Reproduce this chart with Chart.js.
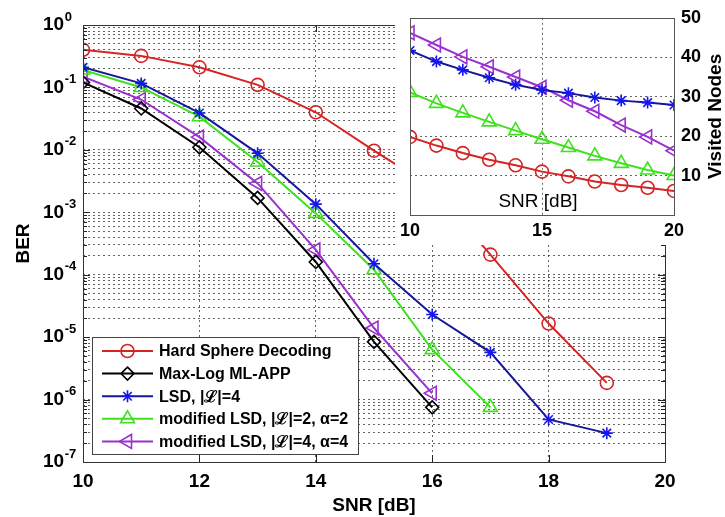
<!DOCTYPE html>
<html>
<head>
<meta charset="utf-8">
<script src="https://cdn.jsdelivr.net/npm/chart.js@4.4.1/dist/chart.umd.min.js"></script>
<style>
  body { margin: 0; background: #fff; }
  #wrap { position: relative; width: 725px; height: 517px; background: #fff; }
  #mainChart { position: absolute; left: 0; top: 0; }
  #insetChart { position: absolute; left: 395px; top: 0; background: #fff; }
</style>
</head>
<body>
<div id="wrap">
  <canvas id="mainChart" width="725" height="517"></canvas>
  <canvas id="insetChart" width="330" height="245"></canvas>
</div>
<script>
// BER curves (main plot)
const berSnr    = [10, 11, 12, 13, 14, 15, 16, 17, 18, 19];
const berHard   = [0.40, 0.32, 0.21, 0.11, 0.040, 0.0097, 2.5e-3, 2.1e-4, 1.65e-5, 1.85e-6];
const berMaxLog = [0.12, 0.046, 0.011, 1.7e-3, 1.6e-4, 8.4e-6, 7.5e-7];
const berLsd    = [0.21, 0.116, 0.039, 8.8e-3, 1.35e-3, 1.5e-4, 2.3e-5, 5.7e-6, 4.8e-7, 2.9e-7];
const berModL2  = [0.19, 0.10, 0.034, 6.4e-3, 9.6e-4, 1.2e-4, 6.3e-6, 7.5e-7];
const berModL4  = [0.149, 0.064, 0.016, 2.9e-3, 2.5e-4, 1.4e-5, 1.26e-6];

// visited nodes (inset)
const nodesSnr   = [10, 11, 12, 13, 14, 15, 16, 17, 18, 19, 20];
const nodesHard  = [19.8, 17.6, 15.7, 14.0, 12.6, 11.0, 9.8, 8.5, 7.6, 6.9, 6.1];
const nodesLsd   = [41.7, 38.9, 36.8, 34.8, 33.0, 31.7, 30.9, 29.8, 29.0, 28.5, 27.9];
const nodesModL2 = [31.1, 28.3, 25.9, 23.6, 21.4, 19.2, 17.1, 15.0, 13.1, 11.4, 10.0];
const nodesModL4 = [46.2, 43.1, 40.1, 37.6, 35.0, 32.4, 29.1, 26.3, 22.8, 19.8, 16.3];

const legendLabels = ['Hard Sphere Decoding', 'Max-Log ML-APP', 'LSD, |\u2112|=4',
                      'modified LSD, |\u2112|=2, \u03b1=2', 'modified LSD, |\u2112|=4, \u03b1=4'];
const yExponents = [0, -1, -2, -3, -4, -5, -6, -7];

const FONT = '"Liberation Sans", Arial, Helvetica, sans-serif';
const RED = '#d42424', BLACK = '#000000', BLUE = '#16169a', BLUE_PT = '#1515ee',
      GREEN = '#3fe01e', PURPLE = '#9b30d0';
const GRID = 'rgba(50,50,50,0.75)';

// style per series: color, marker color, marker, radius, rotation
const styles = [
  { color: RED,    pt: RED,     shape: 'circle',   r: 6.5, rot: 0 },
  { color: BLACK,  pt: BLACK,   shape: 'rectRot',  r: 6.5, rot: 0 },
  { color: BLUE,   pt: BLUE_PT, shape: 'star',     r: 6,   rot: 0 },
  { color: GREEN,  pt: GREEN,   shape: 'triangle', r: 8,   rot: 0 },
  { color: PURPLE, pt: PURPLE,  shape: 'triangle', r: 8,   rot: -90 }
];

function makeSeries(label, xs, ys, st, width) {
  return {
    label: label,
    data: ys.map((v, i) => ({ x: xs[i], y: v })),
    borderColor: st.color,
    borderWidth: width,
    pointStyle: st.shape,
    pointRadius: st.r,
    pointRotation: st.rot,
    pointBorderColor: st.pt,
    pointBackgroundColor: 'rgba(0,0,0,0)',
    pointBorderWidth: 1.6,
    tension: 0,
    fill: false
  };
}

// own marker drawing for the legend samples
function drawMarker(ctx, st, x, y) {
  const r = st.r;
  ctx.save();
  ctx.strokeStyle = st.pt;
  ctx.lineWidth = 1.6;
  ctx.beginPath();
  if (st.shape === 'circle') {
    ctx.arc(x, y, r, 0, Math.PI * 2);
  } else if (st.shape === 'rectRot') {
    ctx.moveTo(x, y - r); ctx.lineTo(x + r, y); ctx.lineTo(x, y + r); ctx.lineTo(x - r, y); ctx.closePath();
  } else if (st.shape === 'star') {
    for (let a = 0; a < 4; a++) {
      const ang = a * Math.PI / 4;
      ctx.moveTo(x - Math.cos(ang) * r, y - Math.sin(ang) * r);
      ctx.lineTo(x + Math.cos(ang) * r, y + Math.sin(ang) * r);
    }
  } else {
    let rad = st.rot * Math.PI / 180;
    for (let k = 0; k < 3; k++) {
      const px = x + Math.sin(rad) * r, py = y - Math.cos(rad) * r;
      if (k === 0) ctx.moveTo(px, py); else ctx.lineTo(px, py);
      rad += Math.PI * 2 / 3;
    }
    ctx.closePath();
  }
  ctx.stroke();
  ctx.restore();
}

// log ticks 1..9 x 10^n
const yTicks = [];
for (let e = -7; e < 0; e++) {
  for (let k = 1; k <= 9; k++) yTicks.push(k * Math.pow(10, e));
}
yTicks.push(1);

const mainDecor = {
  id: 'mainDecor',
  afterDraw(chart) {
    const ctx = chart.ctx;
    const a = chart.chartArea;
    const ys = chart.scales.y, xs = chart.scales.x;
    ctx.save();
    // inner tick marks
    ctx.strokeStyle = '#222';
    ctx.lineWidth = 1;
    ctx.beginPath();
    yTicks.forEach(v => {
      const py = Math.round(ys.getPixelForValue(v)) + 0.5;
      const major = Math.abs(Math.log10(v) - Math.round(Math.log10(v))) < 1e-9;
      const len = major ? 7 : 4;
      ctx.moveTo(a.left, py); ctx.lineTo(a.left + len, py);
      ctx.moveTo(a.right, py); ctx.lineTo(a.right - len, py);
    });
    [12, 14, 16, 18].forEach(v => {
      const px = Math.round(xs.getPixelForValue(v)) + 0.5;
      ctx.moveTo(px, a.bottom); ctx.lineTo(px, a.bottom - 7);
      ctx.moveTo(px, a.top); ctx.lineTo(px, a.top + 7);
    });
    ctx.stroke();
    // box
    ctx.strokeStyle = '#333';
    ctx.strokeRect(Math.round(a.left) + 0.5, Math.round(a.top) + 0.5,
                   Math.round(a.right - a.left), Math.round(a.bottom - a.top));

    // y tick labels 10^n
    ctx.fillStyle = '#000';
    ctx.textBaseline = 'middle';
    ctx.textAlign = 'left';
    yExponents.forEach(e => {
      const py = ys.getPixelForValue(Math.pow(10, e));
      ctx.font = 'bold 19px ' + FONT;
      ctx.fillText('10', 43, py);
      const w = ctx.measureText('10').width;
      ctx.font = 'bold 13px ' + FONT;
      ctx.fillText(e === 0 ? '0' : '-' + Math.abs(e), 43 + w + 0.5, py - 8);
    });

    // axis titles
    ctx.font = 'bold 19px ' + FONT;
    ctx.textAlign = 'center';
    ctx.fillText('SNR [dB]', (a.left + a.right) / 2, 506);
    ctx.save();
    ctx.translate(24, (a.top + a.bottom) / 2);
    ctx.rotate(-Math.PI / 2);
    ctx.fillText('BER', 0, 0);
    ctx.restore();

    // legend
    const lx = 92, ly = 337, lw = 266, lh = 117;
    ctx.fillStyle = '#fff';
    ctx.fillRect(lx, ly, lw, lh);
    ctx.strokeStyle = '#444';
    ctx.strokeRect(lx + 0.5, ly + 0.5, lw, lh);
    ctx.font = 'bold 16px ' + FONT;
    ctx.textAlign = 'left';
    legendLabels.forEach((lab, i) => {
      const ry = 351 + i * 22.6;
      const st = styles[i];
      ctx.strokeStyle = st.color;
      ctx.lineWidth = 2;
      ctx.beginPath();
      ctx.moveTo(102, ry); ctx.lineTo(153, ry);
      ctx.stroke();
      drawMarker(ctx, st, 127.5, ry);
      ctx.fillStyle = '#000';
      ctx.fillText(lab, 159, ry + 1);
    });
    ctx.restore();
  }
};

const insetDecor = {
  id: 'insetDecor',
  afterDraw(chart) {
    const ctx = chart.ctx;
    const a = chart.chartArea;
    ctx.save();
    ctx.strokeStyle = '#555';
    ctx.lineWidth = 1;
    ctx.strokeRect(Math.round(a.left) + 0.5, Math.round(a.top) + 0.5,
                   Math.round(a.right - a.left), Math.round(a.bottom - a.top));
    ctx.fillStyle = '#000';
    ctx.textAlign = 'center';
    ctx.textBaseline = 'middle';
    ctx.font = '19px ' + FONT;
    ctx.fillText('SNR [dB]', 143, 202);
    ctx.font = 'bold 19px ' + FONT;
    ctx.translate(321, (a.top + a.bottom) / 2);
    ctx.rotate(-Math.PI / 2);
    ctx.fillText('Visited Nodes', 0, 0);
    ctx.restore();
  }
};

function gridColor(edges) {
  return c => (c.tick && edges.indexOf(c.tick.value) >= 0) ? 'rgba(0,0,0,0)' : GRID;
}

new Chart(document.getElementById('mainChart'), {
  type: 'line',
  data: {
    datasets: [
      makeSeries(legendLabels[0], berSnr, berHard, styles[0], 2),
      makeSeries(legendLabels[1], berSnr, berMaxLog, styles[1], 2),
      makeSeries(legendLabels[2], berSnr, berLsd, styles[2], 2),
      makeSeries(legendLabels[3], berSnr, berModL2, styles[3], 2),
      makeSeries(legendLabels[4], berSnr, berModL4, styles[4], 2)
    ]
  },
  options: {
    responsive: false,
    animation: false,
    devicePixelRatio: 1,
    layout: { padding: { left: 0, top: 25, right: 60, bottom: 0 } },
    plugins: { legend: { display: false }, tooltip: { enabled: false } },
    scales: {
      x: {
        type: 'linear', min: 10, max: 20,
        ticks: { stepSize: 2, color: '#000', padding: 8, font: { family: FONT, size: 19, weight: 'bold' } },
        grid: { drawTicks: false, color: gridColor([10, 20]), lineWidth: 1 },
        border: { display: false, dash: [2, 3] },
        afterFit: s => { s.height = 55; }
      },
      y: {
        type: 'logarithmic', min: 1e-7, max: 1,
        afterBuildTicks: s => { s.ticks = yTicks.map(v => ({ value: v })); },
        ticks: { display: false },
        grid: { drawTicks: false, color: gridColor([1e-7, 1]), lineWidth: 1 },
        border: { display: false, dash: [2, 3] },
        afterFit: s => { s.width = 83; }
      }
    }
  },
  plugins: [mainDecor]
});

new Chart(document.getElementById('insetChart'), {
  type: 'line',
  data: {
    datasets: [
      makeSeries(legendLabels[0], nodesSnr, nodesHard, styles[0], 2),
      makeSeries(legendLabels[2], nodesSnr, nodesLsd, styles[2], 2),
      makeSeries(legendLabels[3], nodesSnr, nodesModL2, styles[3], 2),
      makeSeries(legendLabels[4], nodesSnr, nodesModL4, styles[4], 2)
    ]
  },
  options: {
    responsive: false,
    animation: false,
    devicePixelRatio: 1,
    layout: { padding: { left: 7, top: 10, right: 0, bottom: 0 } },
    plugins: { legend: { display: false }, tooltip: { enabled: false } },
    scales: {
      x: {
        type: 'linear', min: 10, max: 20,
        ticks: { stepSize: 5, color: '#000', padding: 5, font: { family: FONT, size: 18, weight: 'bold' } },
        grid: { drawTicks: false, color: gridColor([10, 20]), lineWidth: 1 },
        border: { display: false, dash: [2, 3] },
        afterFit: s => { s.height = 30; }
      },
      y: {
        type: 'linear', position: 'right', min: 0, max: 50,
        ticks: { stepSize: 10, color: '#000', padding: 7, font: { family: FONT, size: 18, weight: 'bold' },
                 callback: v => v === 0 ? '' : v },
        grid: { drawTicks: false, color: gridColor([0, 50]), lineWidth: 1 },
        border: { display: false, dash: [2, 3] },
        afterFit: s => { s.width = 51; }
      }
    }
  },
  plugins: [insetDecor]
});
</script>
</body>
</html>
